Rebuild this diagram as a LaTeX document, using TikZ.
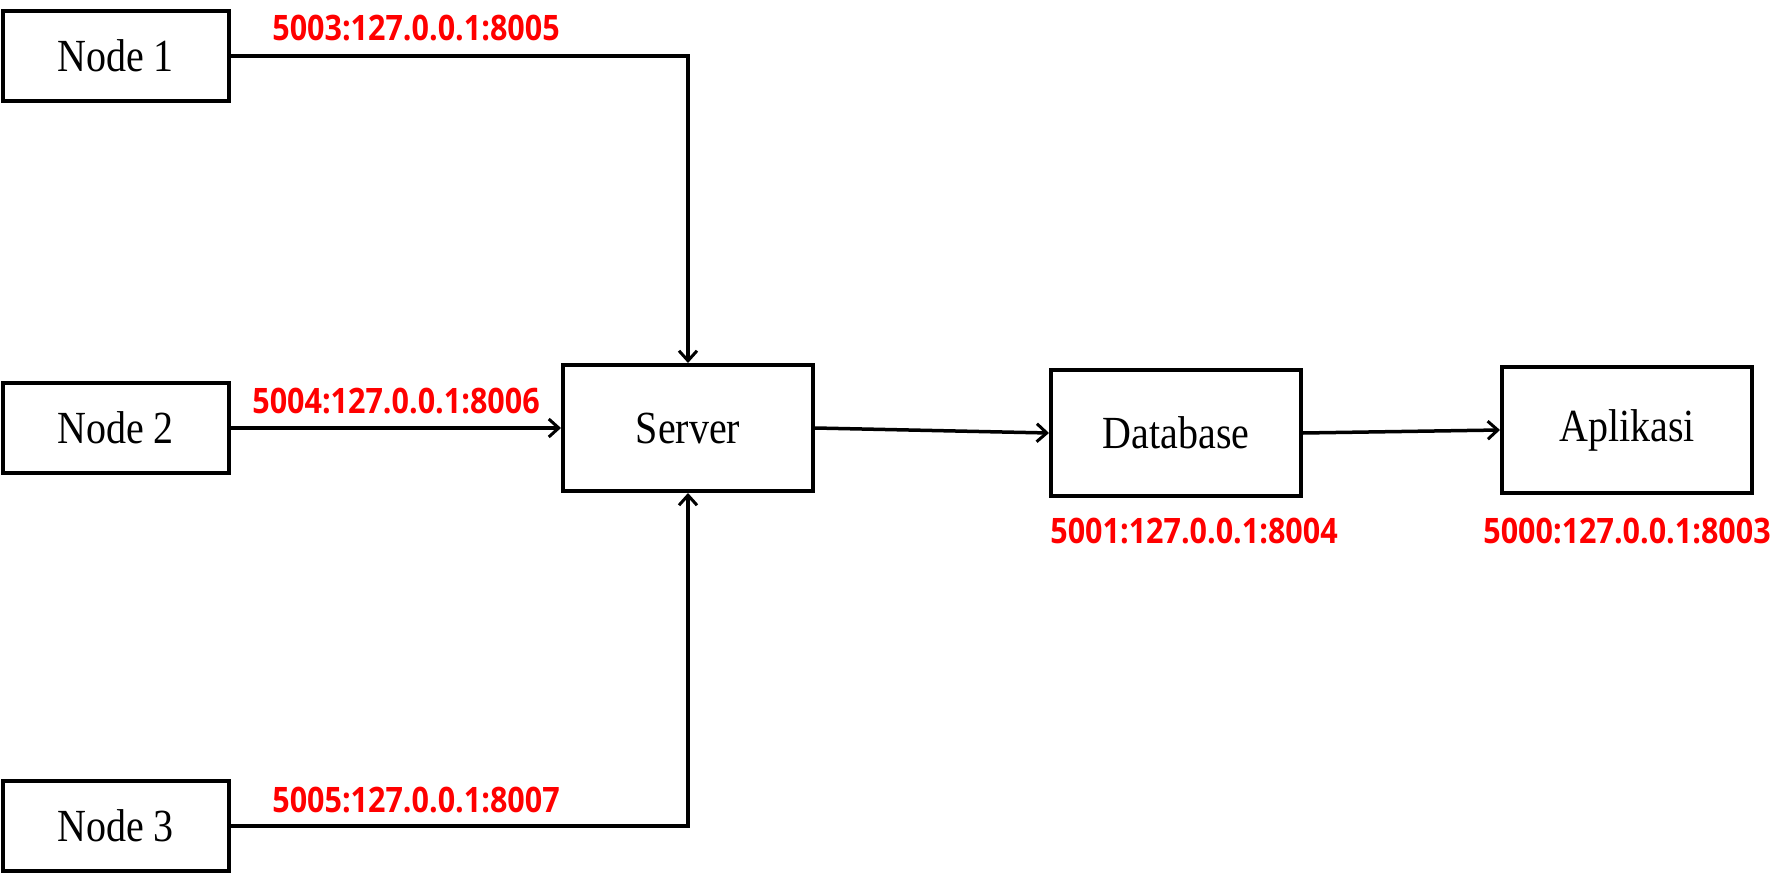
\documentclass[tikz,border=0pt]{standalone}
\usepackage{fontspec}
\usepackage{graphicx}
\setmainfont{Liberation Serif}
\newfontfamily\labfont{Open Sans}
\usetikzlibrary{arrows.meta}
\newcommand{\vstretch}[1]{\scalebox{1}[1.15]{#1}}
\tikzset{
  box/.style={draw, line width=4pt, minimum width=226pt, minimum height=90pt, inner sep=0pt,
              font=\fontsize{40}{40}\selectfont},
  bigbox/.style={box, minimum width=250pt, minimum height=126pt},
  lab/.style={text=red, inner sep=0pt, font=\labfont\bfseries\fontsize{30.5}{30.5}\selectfont},
  conn/.style={line width=3.5pt, -{Straight Barb[length=10pt,width=18pt,line width=3pt]}},
}
\begin{document}
\begin{tikzpicture}[x=1pt,y=-1pt]
\useasboundingbox (0,0) rectangle (1783,874);
\node[box] (n1) at (115.5,56) {\vstretch{Node 1}};
\node[box] (n2) at (115.5,428) {\vstretch{Node 2}};
\node[box] (n3) at (115.5,826) {\vstretch{Node 3}};
\node[bigbox] (server) at (688,428) {\vstretch{Server}};
\node[bigbox] (db) at (1176,433) {\vstretch{Database}};
\node[bigbox] (app) at (1627,430) {\vstretch{Aplikasi}};
\draw[conn] (n1.east) -| (server.north);
\draw[conn] (n2.east) -- (server.west);
\draw[conn] (n3.east) -| (server.south);
\draw[conn] (server.east) -- (db.west);
\draw[conn] (db.east) -- (app.west);
\node[lab] (l1) at (416,28) {\vstretch{5003:127.0.0.1:8005}};
\node[lab] (l2) at (396,401) {\vstretch{5004:127.0.0.1:8006}};
\node[lab] (l3) at (416,800) {\vstretch{5005:127.0.0.1:8007}};
\node[lab] (l4) at (1194,531) {\vstretch{5001:127.0.0.1:8004}};
\node[lab] (l5) at (1627,531) {\vstretch{5000:127.0.0.1:8003}};
\end{tikzpicture}
\end{document}
